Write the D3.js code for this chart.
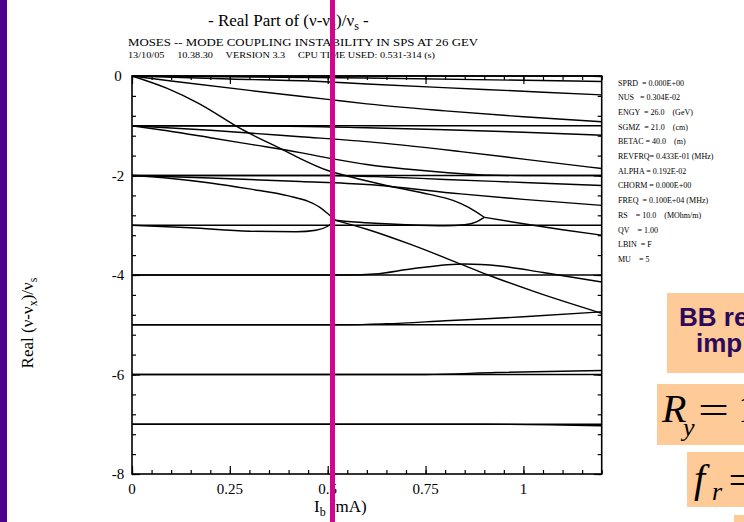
<!DOCTYPE html>
<meta charset="utf-8">
<script src="https://d3js.org/d3.v7.min.js"></script>
<style>
  body { margin: 0; background: #fff; }
  svg { display: block; font-family: "Liberation Serif", "DejaVu Serif", serif; }
</style>
<div id="chart"></div>
<script>
// axis ticks
var xTicks = [0, 0.25, 0.5, 0.75, 1];
var yTicks = [0, -2, -4, -6, -8];

// modes that stay flat across the whole current range
var flatModes = [0, -1, -2, -3, -4, -5, -6, -7];

// [I_b (mA), Re((v-vx)/vs)]
var modeA = [[0,0],[0.25,-0.06],[0.48,-0.11],[0.6,-0.16],[0.9,-0.27],[1.2,-0.38]];
var modeH = [[0,0],[0.6,-0.04],[1.2,-0.11]];
var modeB = [[0,0],[0.1,-0.1],[0.3,-0.29],[0.5,-0.47],[0.6,-0.56],[0.8,-0.7],[1.0,-0.82],[1.2,-0.92]];
var modeC = [[0,0],[0.09,-0.25],[0.17,-0.55],[0.28,-1.07],[0.39,-1.5],[0.43,-1.66],[0.5,-1.9],[0.56,-2.03],[0.65,-2.2],[0.76,-2.38],[0.82,-2.5],[0.86,-2.64],[0.9,-2.84]];
var modeD = [[0,-1],[0.2,-1.09],[0.43,-1.22],[0.6,-1.32],[0.84,-1.52],[1.0,-1.67],[1.2,-1.86]];
var modeE = [[0,-1],[0.09,-1.1],[0.2,-1.24],[0.3,-1.37],[0.43,-1.54],[0.51,-1.66],[0.6,-1.78],[0.7,-1.87],[0.8,-1.94],[0.9,-1.99],[1.0,-2.0],[1.2,-2.0]];
var modeG = [[0,-1],[0.4,-1.01],[0.6,-1.04],[0.8,-1.08],[1.0,-1.13],[1.2,-1.19]];
var modeF = [[0,-2],[0.2,-2.05],[0.43,-2.12],[0.6,-2.18],[0.84,-2.37],[1.0,-2.48],[1.2,-2.6]];
var modeT = [[0,-2],[0.5,-2.0],[0.65,-2.03],[0.8,-2.08],[1.0,-2.14],[1.2,-2.2]];
var modeK = [[0,-2],[0.1,-2.06],[0.2,-2.15],[0.3,-2.27],[0.4,-2.41],[0.45,-2.52],[0.48,-2.64],[0.505,-2.8],[0.52,-2.9]];
var modeL = [[0,-3],[0.15,-3.05],[0.3,-3.12],[0.42,-3.13],[0.47,-3.1],[0.5,-3.02],[0.52,-2.9]];
var modeM = [[0.52,-2.9],[0.56,-2.93],[0.62,-2.96],[0.7,-2.99],[0.8,-3.01],[0.85,-2.99],[0.88,-2.93],[0.9,-2.84]];
var modeN = [[0.9,-2.84],[1.0,-2.97],[1.1,-3.09],[1.2,-3.2]];
var modeS = [[0.52,-2.9],[0.6,-3.08],[0.71,-3.38],[0.84,-3.78],[0.91,-4.0],[1.03,-4.34],[1.2,-4.77]];
var modeP = [[0,-4],[0.55,-4.0],[0.62,-3.98],[0.72,-3.87],[0.85,-3.78],[0.94,-3.82],[1.05,-3.95],[1.2,-4.14]];
var modeQ = [[0,-5],[0.55,-5.0],[0.65,-4.98],[0.8,-4.92],[1.0,-4.84],[1.2,-4.74]];
var modeR = [[0,-6],[0.75,-6.0],[0.93,-5.96],[1.2,-5.92]];
var modeU = [[0,-7],[0.9,-7.0],[1.2,-7.03]];

var params = [
  "SPRD  = 0.000E+00",
  "NUS   = 0.304E-02",
  "ENGY  = 26.0    (GeV)",
  "SGMZ  = 21.0    (cm)",
  "BETAC = 40.0    (m)",
  "REVFRQ= 0.433E-01 (MHz)",
  "ALPHA = 0.192E-02",
  "CHORM = 0.000E+00",
  "FREQ  = 0.100E+04 (MHz)",
  "RS    = 10.0    (MOhm/m)",
  "QV    = 1.00",
  "LBIN  = F",
  "MU    = 5"
];

var W = 744, H = 522;
var svg = d3.select("#chart").append("svg")
    .attr("width", W)
    .attr("height", H);

var x = d3.scaleLinear().domain([0, 1.2]).range([132, 601.7]);
var y = d3.scaleLinear().domain([-8, 0]).range([474, 76]);

// purple slide edge
svg.append("rect").attr("x", 0).attr("y", 0).attr("width", 7).attr("height", H).attr("fill", "#4b038c");

// titles
var t = svg.append("text").attr("x", 208).attr("y", 26).attr("font-size", 17);
t.append("tspan").text("- Real Part of (\u03bd-\u03bd");
t.append("tspan").attr("font-size", 12).attr("dy", 4).text("x");
t.append("tspan").attr("dy", -4).text(")/\u03bd");
t.append("tspan").attr("font-size", 12).attr("dy", 4).text("s");
t.append("tspan").attr("dy", -4).text(" -");

svg.append("text").attr("x", 128).attr("y", 46).attr("font-size", 11)
    .attr("textLength", 350).attr("lengthAdjust", "spacingAndGlyphs")
    .text("MOSES -- MODE COUPLING INSTABILITY IN SPS AT 26 GEV");
svg.append("text").attr("x", 128).attr("y", 57.5).attr("font-size", 8.5)
    .attr("textLength", 307).attr("lengthAdjust", "spacingAndGlyphs")
    .attr("xml:space", "preserve")
    .text("13/10/05     10.38.30     VERSION 3.3     CPU TIME USED: 0.531-314 (s)");

// modes
var line = d3.line()
    .x(function(d) { return x(d[0]); })
    .y(function(d) { return y(d[1]); })
    .curve(d3.curveMonotoneX);

var modes = [modeA, modeH, modeB, modeC, modeD, modeE, modeG, modeF, modeT,
             modeK, modeL, modeM, modeN, modeS, modeP, modeQ, modeR, modeU];
flatModes.forEach(function(v) { modes.push([[0, v], [1.2, v]]); });

svg.append("g").selectAll("path")
    .data(modes)
    .enter().append("path")
    .attr("d", line)
    .attr("fill", "none")
    .attr("stroke", "#000")
    .attr("stroke-width", 1.4);

// axes with inward ticks
var xMinor = d3.range(0, 1.2001, 0.05);
var yMinor = d3.range(-8, 0.001, 0.4);

function tickAxis(axis, scale, vals, size) {
  return axis(scale).tickValues(vals).tickSizeInner(-size).tickSizeOuter(0).tickFormat("");
}

var axes = svg.append("g").attr("class", "axes");
axes.append("g").attr("transform", "translate(0,474)").call(tickAxis(d3.axisBottom, x, xMinor, 4));
axes.append("g").attr("transform", "translate(0,474)").call(tickAxis(d3.axisBottom, x, xTicks, 8));
axes.append("g").attr("transform", "translate(0,76)").call(tickAxis(d3.axisTop, x, xMinor, 4));
axes.append("g").attr("transform", "translate(0,76)").call(tickAxis(d3.axisTop, x, xTicks, 8));
axes.append("g").attr("transform", "translate(132,0)").call(tickAxis(d3.axisLeft, y, yMinor, 4));
axes.append("g").attr("transform", "translate(132,0)").call(tickAxis(d3.axisLeft, y, yTicks, 8));
axes.append("g").attr("transform", "translate(601.7,0)").call(tickAxis(d3.axisRight, y, yMinor, 4));
axes.append("g").attr("transform", "translate(601.7,0)").call(tickAxis(d3.axisRight, y, yTicks, 8));
axes.selectAll(".domain").remove();
axes.selectAll("line").attr("stroke", "#000").attr("stroke-width", 1.2);

svg.append("rect")
    .attr("x", x(0)).attr("y", y(0))
    .attr("width", x(1.2) - x(0)).attr("height", y(-8) - y(0))
    .attr("fill", "none").attr("stroke", "#000").attr("stroke-width", 1.6);

// tick labels
svg.append("g").selectAll("text")
    .data(xTicks).enter().append("text")
    .attr("x", function(d) { return x(d); })
    .attr("y", 494)
    .attr("text-anchor", "middle")
    .attr("font-size", 15)
    .text(function(d) { return String(d); });

svg.append("g").selectAll("text")
    .data(yTicks).enter().append("text")
    .attr("x", 118)
    .attr("y", function(d) { return y(d) + 5; })
    .attr("text-anchor", "middle")
    .attr("font-size", 15)
    .text(function(d) { return String(d); });

// axis titles
var xl = svg.append("text").attr("x", 314).attr("y", 512).attr("font-size", 17);
xl.append("tspan").text("I");
xl.append("tspan").attr("font-size", 12).attr("dy", 4).text("b");
xl.append("tspan").attr("dy", -4).text(" (mA)");

var yl = svg.append("text")
    .attr("transform", "translate(33,323) rotate(-90)")
    .attr("text-anchor", "middle")
    .attr("font-size", 17);
yl.append("tspan").text("Real (\u03bd-\u03bd");
yl.append("tspan").attr("font-size", 12).attr("dy", 4).text("x");
yl.append("tspan").attr("dy", -4).text(")/\u03bd");
yl.append("tspan").attr("font-size", 12).attr("dy", 4).text("s");

// run parameters
svg.append("g").selectAll("text")
    .data(params).enter().append("text")
    .attr("x", 618)
    .attr("y", function(d, i) { return 85.5 + i * 14.7; })
    .attr("font-size", 8)
    .attr("xml:space", "preserve")
    .text(function(d) { return d; });

// slide boxes on the right
var peach = "#fdca98";
svg.append("rect").attr("x", 667).attr("y", 293).attr("width", 80).attr("height", 80).attr("fill", peach);
svg.append("rect").attr("x", 657).attr("y", 384).attr("width", 90).attr("height", 61).attr("fill", peach);
svg.append("rect").attr("x", 687).attr("y", 452).attr("width", 60).attr("height", 55).attr("fill", peach);
svg.append("rect").attr("x", 734).attr("y", 515).attr("width", 12).attr("height", 8).attr("fill", peach);

var sans = "'Liberation Sans', Arial, sans-serif";
svg.append("text").attr("x", 679).attr("y", 326)
    .attr("font-family", sans).attr("font-weight", "bold")
    .attr("font-size", 26).attr("fill", "#2b0a5c").text("BB re");
svg.append("text").attr("x", 696).attr("y", 352)
    .attr("font-family", sans).attr("font-weight", "bold")
    .attr("font-size", 26).attr("fill", "#2b0a5c").text("imp");

// R_y = 1
svg.append("text").attr("x", 662).attr("y", 422).attr("font-size", 40)
    .attr("font-style", "italic").text("R");
svg.append("text").attr("x", 683).attr("y", 436).attr("font-size", 26)
    .attr("font-style", "italic").text("y");
svg.append("text").attr("x", 698).attr("y", 424).attr("font-size", 40)
    .attr("textLength", 31).attr("lengthAdjust", "spacingAndGlyphs").text("=");
svg.append("text").attr("x", 738).attr("y", 422).attr("font-size", 40).text("1");

// f_r =
svg.append("text").attr("x", 694).attr("y", 492).attr("font-size", 40)
    .attr("font-style", "italic").text("f");
svg.append("text").attr("x", 712).attr("y", 500).attr("font-size", 26)
    .attr("font-style", "italic").text("r");
svg.append("text").attr("x", 728).attr("y", 494).attr("font-size", 40)
    .attr("textLength", 31).attr("lengthAdjust", "spacingAndGlyphs").text("=");

// magenta marker line
svg.append("rect").attr("x", 330).attr("y", 0).attr("width", 5).attr("height", H).attr("fill", "#d4058c");
</script>
